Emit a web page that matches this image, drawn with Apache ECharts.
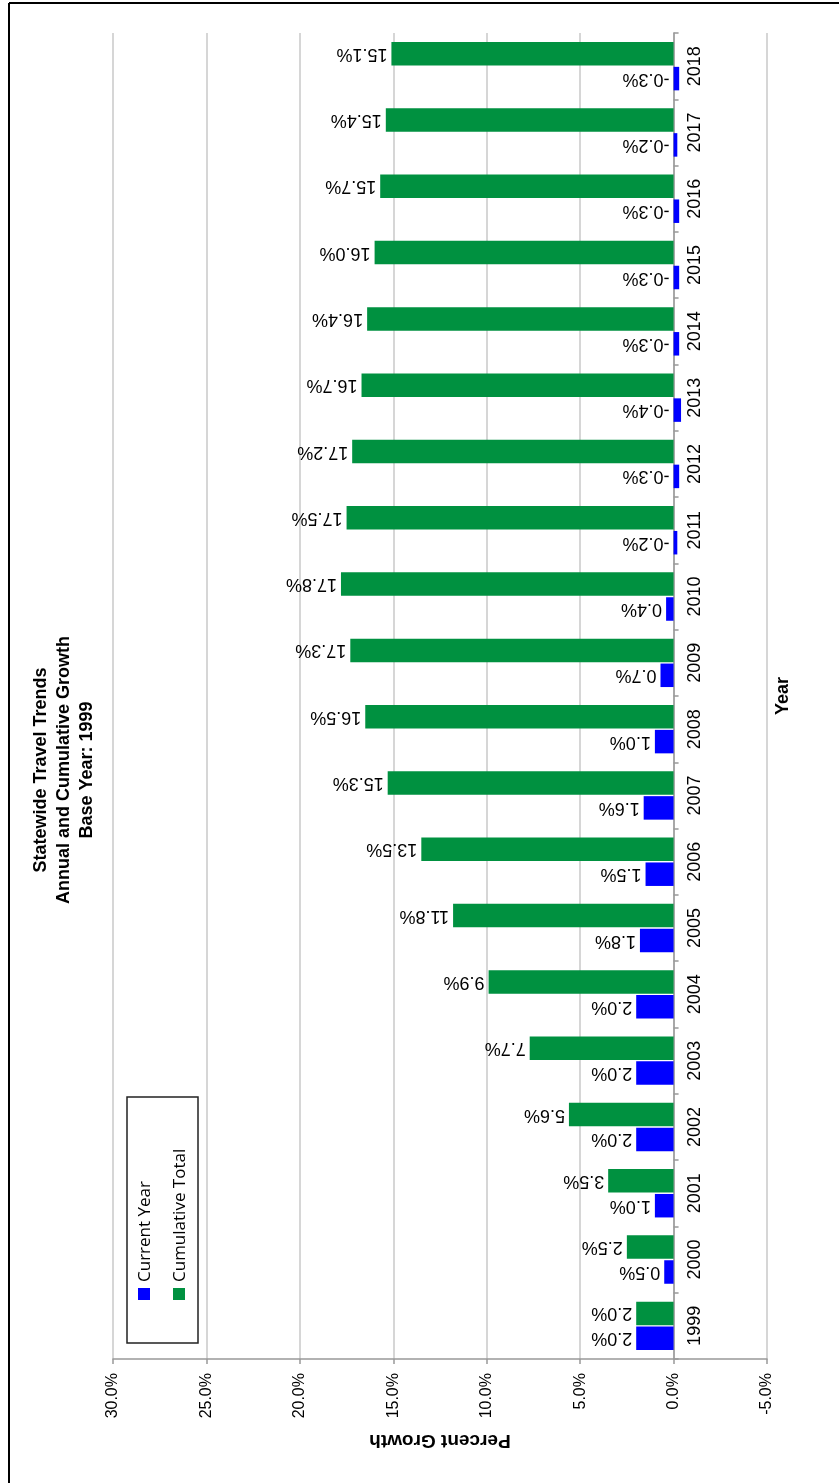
<!DOCTYPE html>
<html>
<head>
<meta charset="utf-8">
<script src="https://cdn.jsdelivr.net/npm/echarts@6/dist/echarts.min.js"></script>
<style>
html,body{margin:0;padding:0;background:#fff;}
#chart{width:839px;height:1483px;}
</style>
</head>
<body>
<div id="chart"></div>
<script>
const years = ['1999','2000','2001','2002','2003','2004','2005','2006','2007','2008','2009','2010','2011','2012','2013','2014','2015','2016','2017','2018'];
const currentYear = [2.0,0.5,1.0,2.0,2.0,2.0,1.8,1.5,1.6,1.0,0.7,0.4,-0.2,-0.3,-0.4,-0.3,-0.3,-0.3,-0.2,-0.3];
const cumulativeTotal = [2.0,2.5,3.5,5.6,7.7,9.9,11.8,13.5,15.3,16.5,17.3,17.8,17.5,17.2,16.7,16.4,16.0,15.7,15.4,15.1];
const titleLines = ['Statewide Travel Trends','Annual and Cumulative Growth','Base Year: 1999'];
const seriesNames = ['Current Year','Cumulative Total'];
const axisMin = -5, axisMax = 30, axisStep = 5;

const FONT = '"Liberation Sans", Arial, sans-serif';
const BLUE = '#0000FF';
const GREEN = '#009140';

const GRID = {left: 113, right: 72, top: 33, bottom: 124};
const plotW = 839 - GRID.left - GRID.right;
// distance in px from the right edge (axisMin) to the zero value, derived from the axis range
const zeroShift = plotW * (0 - axisMin) / (axisMax - axisMin);

const chart = echarts.init(document.getElementById('chart'), null, {renderer:'canvas'});

const labelCfg = {
  show: true,
  position: 'left',
  distance: 4,
  rotate: 180,
  align: 'left',
  verticalAlign: 'middle',
  color: '#000',
  fontFamily: FONT,
  fontSize: 18,
  formatter: p => p.value.toFixed(1) + '%'
};

const option = {
  backgroundColor: '#fff',
  animation: false,
  grid: Object.assign({containLabel: false, outerBoundsMode: 'none'}, GRID),
  xAxis: {
    type: 'value',
    inverse: true,
    min: axisMin, max: axisMax, interval: axisStep,
    name: 'Percent Growth',
    nameLocation: 'middle',
    nameRotate: 180,
    nameGap: 72,
    nameTextStyle: {fontFamily: FONT, fontWeight: 'bold', fontSize: 19, color: '#000'},
    axisLine: {show: true, lineStyle: {color: '#999', width: 1.5}},
    axisTick: {show: true, length: 5, lineStyle: {color: '#999', width: 1.5}},
    axisLabel: {rotate: 90, margin: 14, fontFamily: FONT, fontSize: 16, color: '#000',
      formatter: v => v.toFixed(1) + '%'},
    splitLine: {show: true, lineStyle: {color: '#c8c8c8', width: 1.5}}
  },
  yAxis: {
    type: 'category',
    data: years,
    position: 'right',
    offset: -zeroShift,
    name: 'Year',
    nameLocation: 'middle',
    nameRotate: 90,
    nameGap: 100,
    nameTextStyle: {fontFamily: FONT, fontWeight: 'bold', fontSize: 18, color: '#000'},
    axisLine: {show: true, onZero: false, lineStyle: {color: '#999', width: 1.5}},
    axisTick: {show: true, length: 5, lineStyle: {color: '#999', width: 1.5}},
    axisLabel: {rotate: 90, margin: 12, fontFamily: FONT, fontSize: 18, color: '#000'},
    splitLine: {show: false}
  },
  series: [
    {
      name: seriesNames[1], type: 'bar', data: cumulativeTotal,
      itemStyle: {color: GREEN},
      barGap: '6%', barCategoryGap: '27%',
      label: labelCfg
    },
    {
      name: seriesNames[0], type: 'bar', data: currentYear,
      itemStyle: {color: BLUE},
      barGap: '6%', barCategoryGap: '27%',
      label: labelCfg
    }
  ],
  graphic: [
    {type: 'line', shape: {x1: 9, y1: 3, x2: 839, y2: 3}, style: {stroke: '#000', lineWidth: 2}, silent: true},
    {type: 'line', shape: {x1: 9, y1: 3, x2: 9, y2: 1483}, style: {stroke: '#000', lineWidth: 2}, silent: true},
    {type: 'text', x: 64, y: 770, rotation: Math.PI / 2, silent: true,
      style: {text: titleLines.join('\n'), fontFamily: FONT, fontWeight: 'bold', fontSize: 18,
        lineHeight: 23, fill: '#000', align: 'center', verticalAlign: 'middle'}},
    {type: 'rect', shape: {x: 127, y: 1097, width: 71, height: 246},
      style: {fill: '#fff', stroke: '#222', lineWidth: 1.5}, silent: true, z: 10},
    {type: 'rect', shape: {x: 138, y: 1288, width: 12, height: 12}, style: {fill: BLUE}, silent: true, z: 11},
    {type: 'rect', shape: {x: 173, y: 1288, width: 12, height: 12}, style: {fill: GREEN}, silent: true, z: 11},
    {type: 'text', x: 145, y: 1282, rotation: Math.PI / 2, silent: true, z: 11,
      style: {text: seriesNames[0], fontFamily: '"Open Sans", sans-serif', fontSize: 17, fill: '#000',
        align: 'left', verticalAlign: 'middle'}},
    {type: 'text', x: 180, y: 1282, rotation: Math.PI / 2, silent: true, z: 11,
      style: {text: seriesNames[1], fontFamily: '"Open Sans", sans-serif', fontSize: 17, fill: '#000',
        align: 'left', verticalAlign: 'middle'}}
  ]
};
chart.setOption(option);
</script>
</body>
</html>
